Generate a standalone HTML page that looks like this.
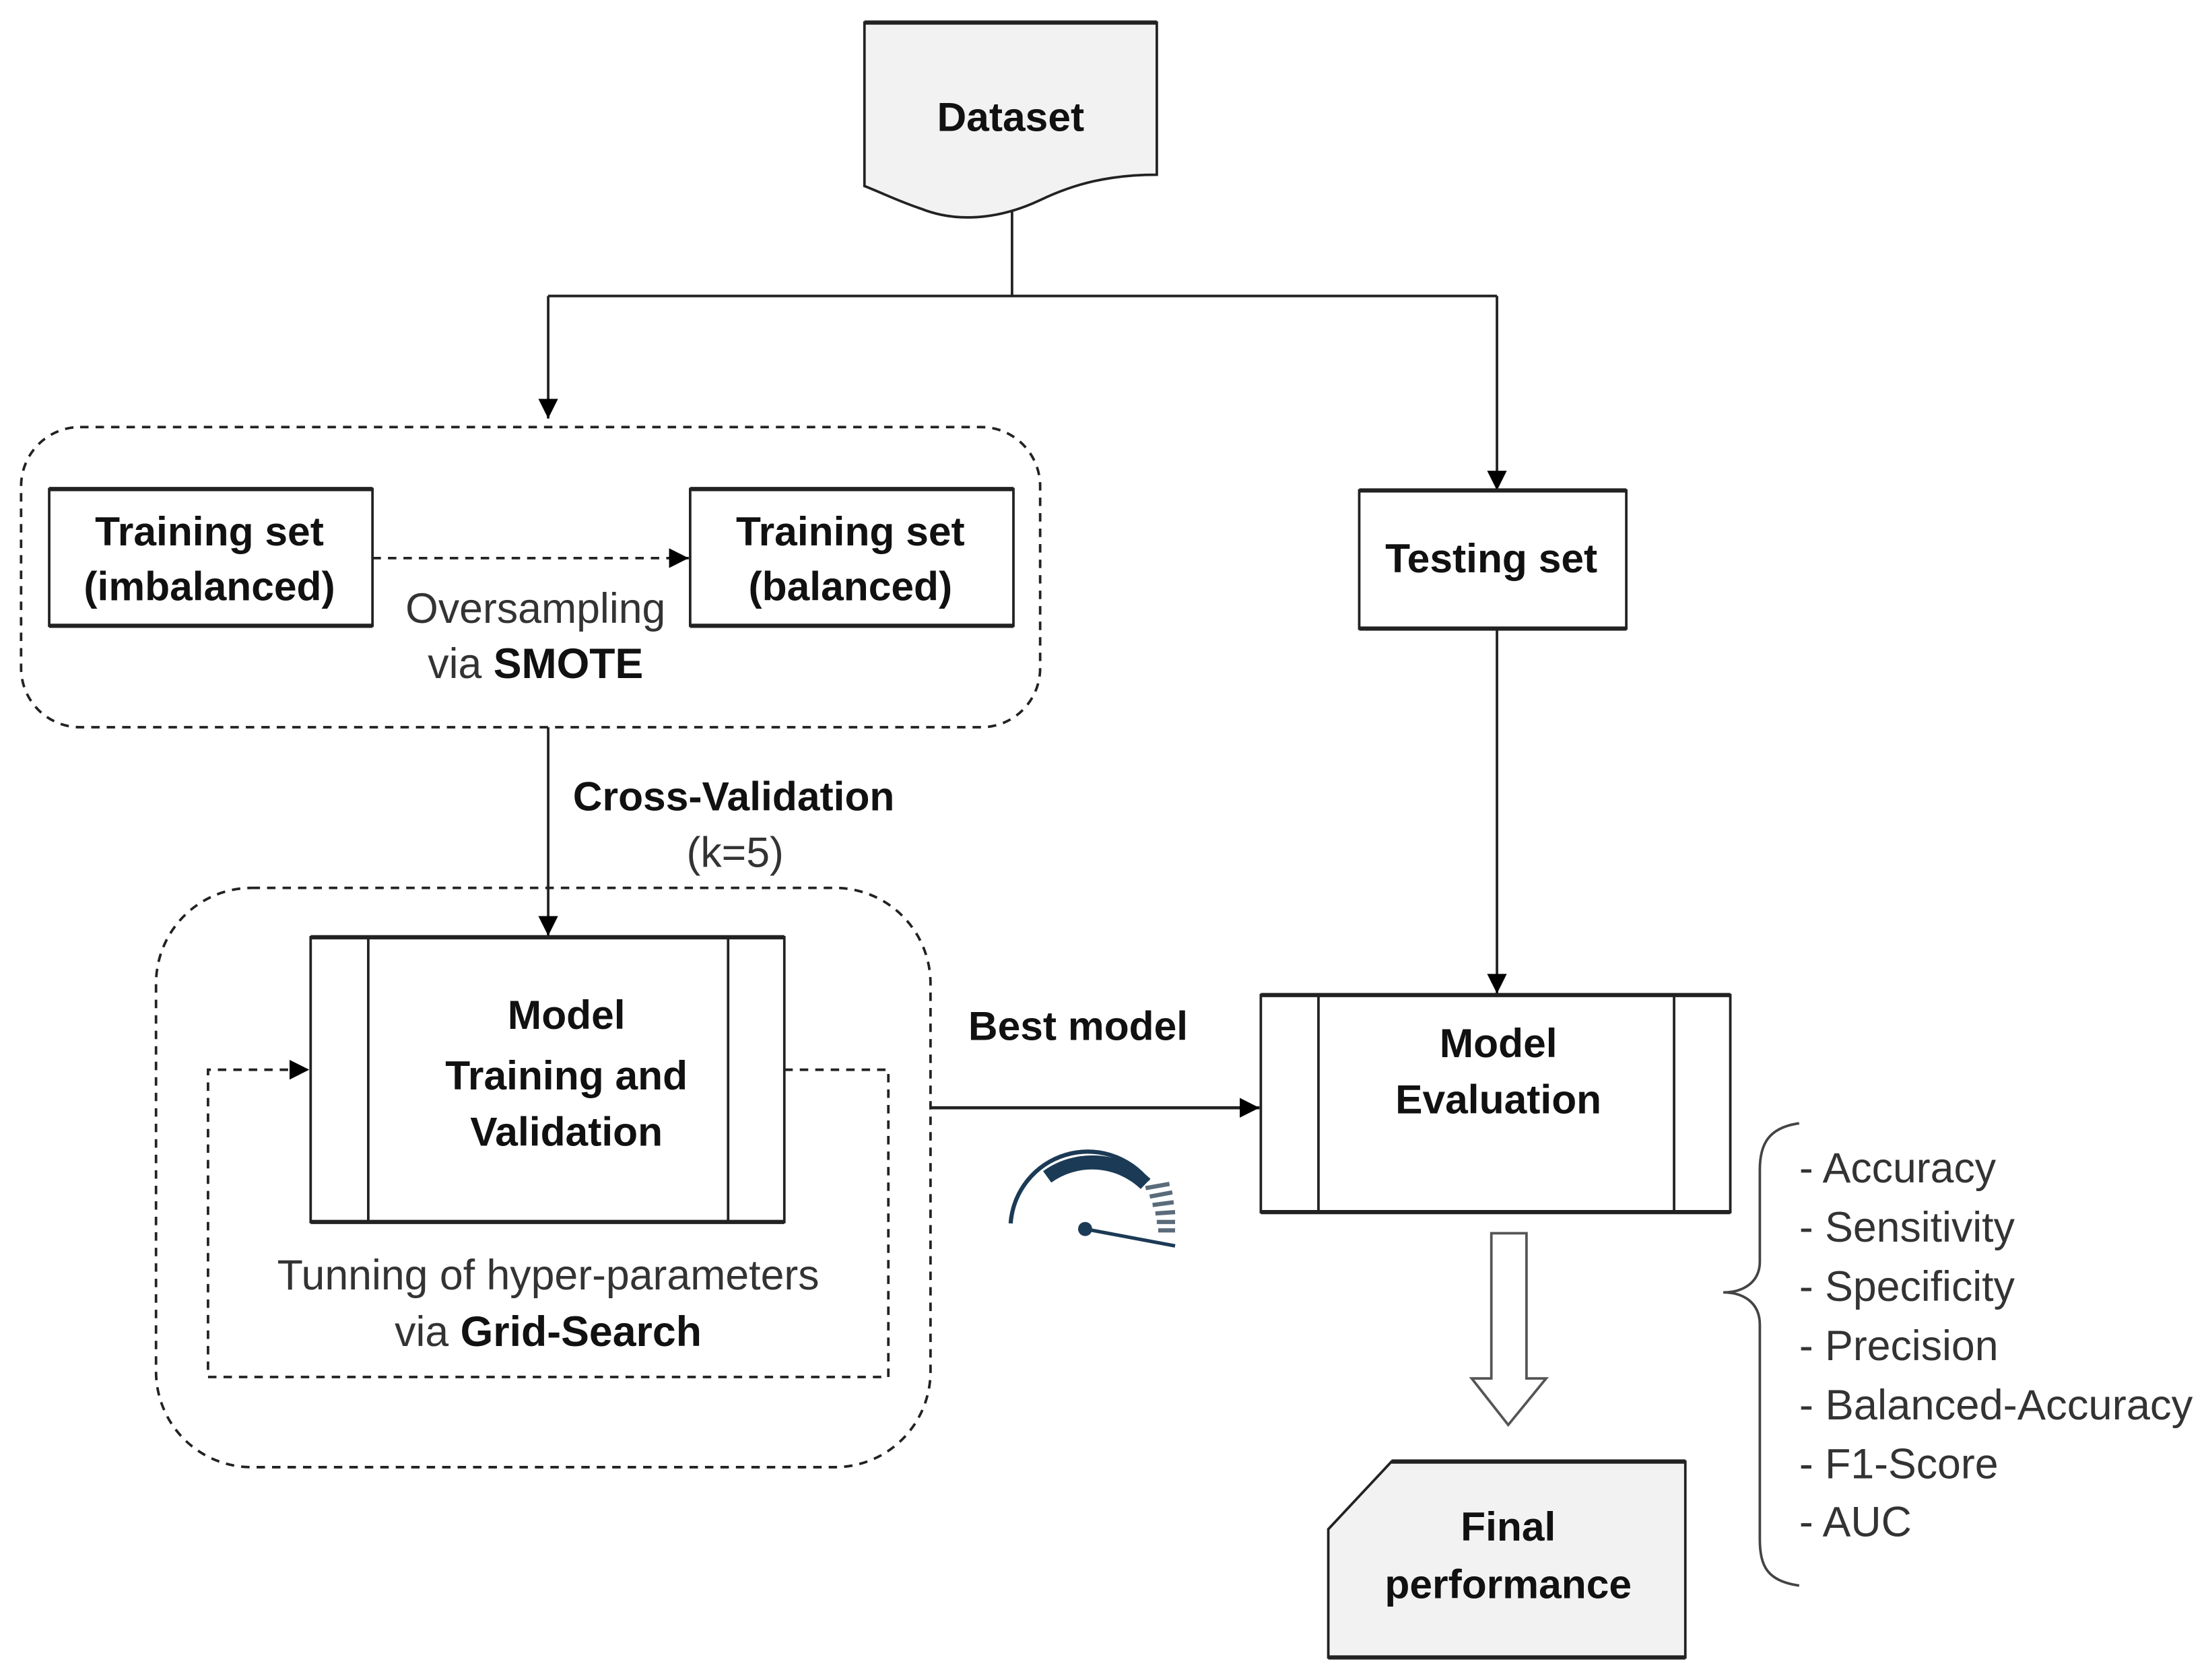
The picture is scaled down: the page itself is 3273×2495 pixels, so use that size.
<!DOCTYPE html>
<html><head><meta charset="utf-8"><style>
html,body{margin:0;padding:0;background:#fff}
svg{display:block}
text{font-family:"Liberation Sans",sans-serif}
.b{font-weight:bold;fill:#111;font-size:29px}
.n{fill:#333;font-size:30px}
</style></head><body>
<svg width="3273" height="2495" viewBox="0 0 1568 1192" preserveAspectRatio="none" xmlns="http://www.w3.org/2000/svg">
<defs>
<marker id="A" viewBox="0 0 10 10" refX="10" refY="5" markerWidth="18" markerHeight="14" markerUnits="userSpaceOnUse" orient="auto"><path d="M0,0 L10,5 L0,10 z" fill="#000"/></marker>
</defs>
<g stroke="#222" stroke-width="1.8" fill="none">
<path d="M615,16 H823 V124 C790,124 765,130 740,142 C710,156 680,158 655,148 C640,143 630,138 615,132 Z" fill="#f2f2f2"/>
<line x1="615" y1="16" x2="823" y2="16" stroke-width="3"/>
<path d="M720,150 V210 M390,210 H1065"/>
<path d="M390,210 V297" marker-end="url(#A)"/>
<path d="M1065,210 V348" marker-end="url(#A)"/>
<rect x="15" y="303" width="725" height="213" rx="42" stroke-dasharray="6,5"/>
<rect x="35" y="347" width="230" height="97" fill="#fff"/>
<line x1="35" y1="347" x2="265" y2="347" stroke-width="3"/>
<line x1="35" y1="444" x2="265" y2="444" stroke-width="3"/>
<rect x="491" y="347" width="230" height="97" fill="#fff"/>
<line x1="491" y1="347" x2="721" y2="347" stroke-width="3"/>
<line x1="491" y1="444" x2="721" y2="444" stroke-width="3"/>
<path d="M265,396 H490" stroke-dasharray="6,5" marker-end="url(#A)"/>
<rect x="967" y="348" width="190" height="98" fill="#fff"/>
<line x1="967" y1="348" x2="1157" y2="348" stroke-width="3"/>
<line x1="967" y1="446" x2="1157" y2="446" stroke-width="3"/>
<path d="M1065,446 V705" marker-end="url(#A)"/>
<path d="M390,516 V664" marker-end="url(#A)"/>
<rect x="111" y="630" width="551" height="411" rx="68" stroke-dasharray="6,5"/>
<rect x="221" y="665" width="337" height="202" fill="#fff"/>
<line x1="221" y1="665" x2="558" y2="665" stroke-width="3"/>
<line x1="221" y1="867" x2="558" y2="867" stroke-width="3"/>
<path d="M262,665 V867 M518,665 V867"/>
<path d="M558,759 H632 V977 H148 V759 H220" stroke-dasharray="6,5" marker-end="url(#A)"/>
<path d="M662,786 H896" stroke-width="2.2" marker-end="url(#A)"/>
<rect x="897" y="706" width="334" height="154" fill="#fff"/>
<line x1="897" y1="706" x2="1231" y2="706" stroke-width="3"/>
<line x1="897" y1="860" x2="1231" y2="860" stroke-width="3"/>
<path d="M938,706 V860 M1191,706 V860"/>
<path d="M1061,875 H1086 V978 H1100 L1073,1011 L1047,978 H1061 Z" fill="#fff" stroke="#555"/>
<path d="M990,1037 H1199 V1176 H945 V1085 Z" fill="#f2f2f2"/>
<line x1="990" y1="1037" x2="1199" y2="1037" stroke-width="3"/>
<line x1="945" y1="1176" x2="1199" y2="1176" stroke-width="3"/>
<path d="M1280,797 C1258,800 1252,812 1252,830 V895 C1252,910 1240,917 1226,917 C1240,917 1252,924 1252,940 V1092 C1252,1112 1258,1122 1280,1125" stroke="#444"/>
</g>
<g fill="none" stroke="#1b3a55">
<path d="M719,868 A55,55 0 0 1 817,838" stroke-width="3"/>
<path d="M745,835 A55,55 0 0 1 815,840" stroke-width="10"/>
<path d="M815,843 L832,840 M818,849 L834,846 M820,855 L835,853 M822,861 L836,860 M823,867 L836,867 M824,873 L836,873" stroke-width="3" stroke="#5a6b7a"/>
<line x1="772" y1="872" x2="836" y2="884" stroke-width="2.5"/>
<circle cx="772" cy="872" r="5" fill="#1b3a55" stroke="none"/>
</g>
<g text-anchor="middle">
<text class="b" x="719" y="93">Dataset</text>
<text class="b" x="149" y="387">Training set</text>
<text class="b" x="149" y="426">(imbalanced)</text>
<text class="b" x="605" y="387">Training set</text>
<text class="b" x="605" y="426">(balanced)</text>
<text class="n" x="381" y="442">Oversampling</text>
<text class="n" x="381" y="481">via <tspan font-weight="bold" fill="#111">SMOTE</tspan></text>
<text class="b" x="1061" y="406">Testing set</text>
<text class="b" x="522" y="575">Cross-Validation</text>
<text class="n" x="523" y="615">(k=5)</text>
<text class="b" x="403" y="730">Model</text>
<text class="b" x="403" y="773">Training and</text>
<text class="b" x="403" y="813">Validation</text>
<text class="b" x="767" y="738">Best model</text>
<text class="b" x="1066" y="750">Model</text>
<text class="b" x="1066" y="790">Evaluation</text>
<text class="n" x="390" y="915">Tunning of hyper-parameters</text>
<text class="n" x="390" y="955">via <tspan font-weight="bold" fill="#111">Grid-Search</tspan></text>
<text class="b" x="1073" y="1093">Final</text>
<text class="b" x="1073" y="1134">performance</text>
</g>
<text class="n" x="1280" y="839">- Accuracy</text>
<text class="n" x="1280" y="881">- Sensitivity</text>
<text class="n" x="1280" y="923">- Specificity</text>
<text class="n" x="1280" y="965">- Precision</text>
<text class="n" x="1280" y="1007" textLength="280" lengthAdjust="spacingAndGlyphs">- Balanced-Accuracy</text>
<text class="n" x="1280" y="1049">- F1-Score</text>
<text class="n" x="1280" y="1090">- AUC</text>
</svg>
</body></html>
